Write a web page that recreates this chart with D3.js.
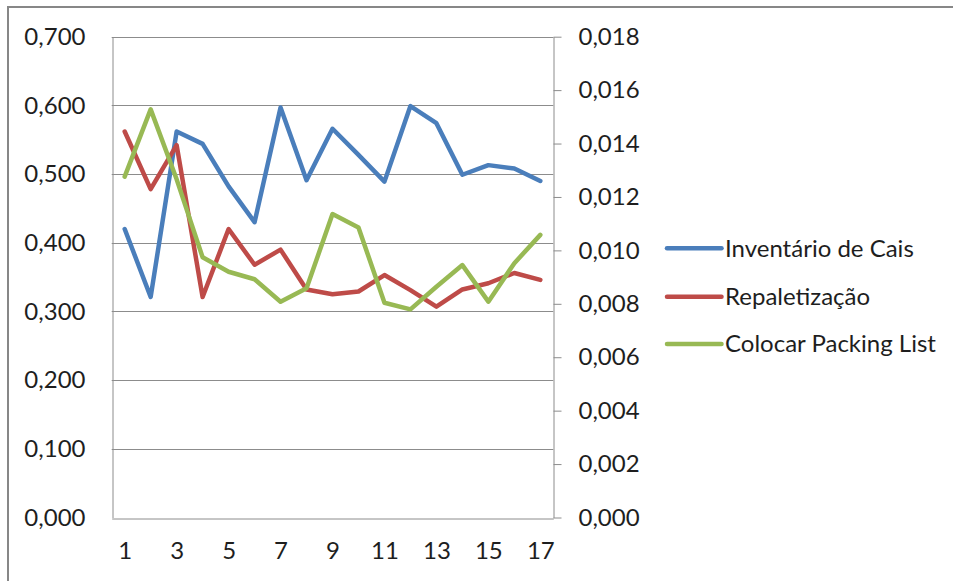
<!DOCTYPE html>
<html>
<head>
<meta charset="utf-8">
<script src="https://cdn.jsdelivr.net/npm/d3@7"></script>
<style>
  html, body { margin: 0; padding: 0; background: #fff; }
  svg { display: block; }
  text { font-family: Lato, "Open Sans", sans-serif; fill: #1e1e1e; }
</style>
</head>
<body>
<svg id="chart" width="953" height="581"></svg>
<script>
// Categories 1..17
const categories = d3.range(1, 18);
const xTickLabels = [1, 3, 5, 7, 9, 11, 13, 15, 17];

// Series on the left axis
const inventarioCais = [0.420, 0.321, 0.562, 0.544, 0.482, 0.430, 0.597, 0.491, 0.566, 0.528, 0.489, 0.599, 0.574, 0.499, 0.513, 0.508, 0.490];
const repaletizacao  = [0.562, 0.478, 0.542, 0.321, 0.420, 0.368, 0.390, 0.332, 0.325, 0.329, 0.353, 0.331, 0.307, 0.332, 0.341, 0.356, 0.346];
// Series on the right axis
const colocarPackingList = [0.01276, 0.01528, 0.01266, 0.00974, 0.00920, 0.00892, 0.00808, 0.00858, 0.01136, 0.01086, 0.00804, 0.00779, 0.00864, 0.00945, 0.00808, 0.00952, 0.01058];

const leftTicks  = [0, 0.1, 0.2, 0.3, 0.4, 0.5, 0.6, 0.7];
const rightTicks = [0, 0.002, 0.004, 0.006, 0.008, 0.010, 0.012, 0.014, 0.016, 0.018];

const seriesNames = ["Inventário de Cais", "Repaletização", "Colocar Packing List"];
const seriesColors = ["#4a7ebb", "#be4b48", "#98b954"];

const fontSize = "24px";
const svg = d3.select("#chart");
const plot = { left: 111.7, right: 553.3, top: 36.7, bottom: 517.5 };

const ptBR = d3.formatLocale({ decimal: ",", thousands: ".", grouping: [3], currency: ["R$", ""] });
const fmt3 = ptBR.format(".3f");

const x = d3.scalePoint().domain(categories).range([plot.left, plot.right]).padding(0.5);
const yL = d3.scaleLinear().domain([0, 0.7]).range([plot.bottom, plot.top]);
const yR = d3.scaleLinear().domain([0, 0.018]).range([plot.bottom, plot.top]);

// Outer chart frame
svg.append("path")
  .attr("d", "M8,581 L8,7 L953,7")
  .attr("fill", "none").attr("stroke", "#878787").attr("stroke-width", 2);

// Horizontal gridlines
svg.append("g").selectAll("line").data(leftTicks.filter(d => d > 0)).join("line")
  .attr("x1", plot.left).attr("x2", plot.right)
  .attr("y1", d => Math.round(yL(d)) + 0.5).attr("y2", d => Math.round(yL(d)) + 0.5)
  .attr("stroke", "#8c8c8c").attr("stroke-width", 1);

// Left axis
const gL = svg.append("g").attr("transform", `translate(${Math.round(plot.left) + 0.5},0)`)
  .call(d3.axisLeft(yL).tickValues(leftTicks).tickFormat(fmt3).tickSize(0).tickPadding(27));
gL.select(".domain").attr("stroke", "#8c8c8c");
gL.selectAll("text").style("font-size", fontSize).attr("font-family", null);

// Right axis
const gR = svg.append("g").attr("transform", `translate(${Math.round(plot.right) + 0.5},0)`)
  .call(d3.axisRight(yR).tickValues(rightTicks).tickFormat(fmt3).tickSizeInner(8).tickSizeOuter(0).tickPadding(17));
gR.select(".domain").attr("stroke", "#8c8c8c");
gR.selectAll(".tick line").attr("stroke", "#8c8c8c");
gR.selectAll("text").style("font-size", fontSize).attr("font-family", null);

// Bottom axis
const gB = svg.append("g").attr("transform", `translate(0,${Math.round(plot.bottom) + 0.5})`)
  .call(d3.axisBottom(x).tickValues(xTickLabels).tickSize(0).tickPadding(23));
gB.select(".domain").attr("stroke", "#8c8c8c");
gB.selectAll("text").style("font-size", fontSize).attr("font-family", null);
svg.selectAll(".tick text").attr("fill", "#1e1e1e");

// Series lines
const seriesData = [
  { values: inventarioCais, y: yL },
  { values: repaletizacao, y: yL },
  { values: colocarPackingList, y: yR }
];
seriesData.forEach((s, i) => {
  const line = d3.line().x((d, j) => x(categories[j])).y(d => s.y(d));
  svg.append("path").datum(s.values)
    .attr("d", line)
    .attr("fill", "none")
    .attr("stroke", seriesColors[i])
    .attr("stroke-width", 4.5)
    .attr("stroke-linejoin", "round")
    .attr("stroke-linecap", "round");
});

// Legend
const legendY = [248.3, 296.7, 344];
const lg = svg.append("g");
seriesNames.forEach((name, i) => {
  lg.append("line")
    .attr("x1", 667).attr("x2", 721.5)
    .attr("y1", legendY[i]).attr("y2", legendY[i])
    .attr("stroke", seriesColors[i]).attr("stroke-width", 4.5).attr("stroke-linecap", "round");
  lg.append("text")
    .attr("x", 725).attr("y", legendY[i]).attr("dy", "0.35em")
    .style("font-size", fontSize)
    .text(name);
});
</script>
</body>
</html>
